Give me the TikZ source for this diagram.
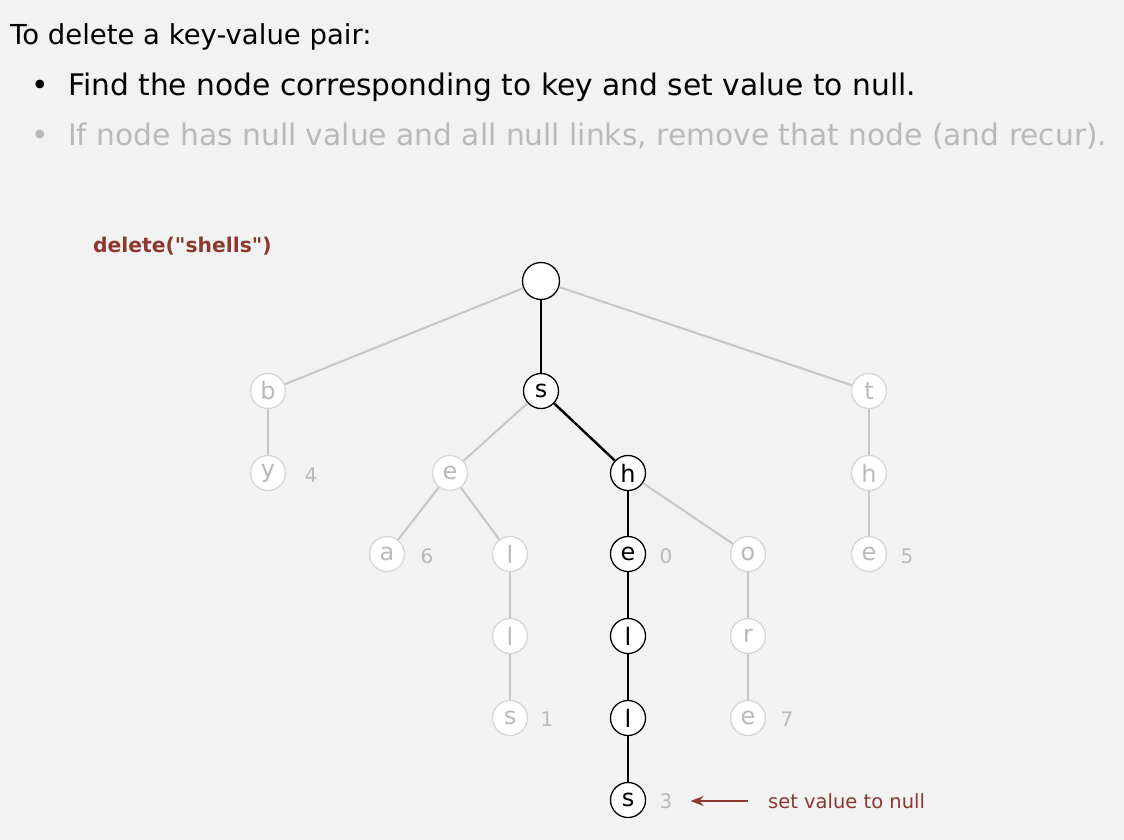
\documentclass[tikz,border=0pt]{standalone}
\usepackage{fontspec}
\setmainfont{DejaVu Sans}
\newfontfamily\callfont{DejaVu Sans}[Ligatures=TeXOff]
\usetikzlibrary{arrows.meta,positioning}
\definecolor{PageGray}{RGB}{242,242,242}
\definecolor{Rust}{RGB}{140,56,46}
\definecolor{FadeLine}{RGB}{198,198,198}
\definecolor{FadeRim}{RGB}{214,214,214}
\definecolor{FadeText}{RGB}{185,185,185}
\tikzset{
  live/.style={circle,draw=black,line width=1.3pt,fill=white,minimum size=35pt,inner sep=0pt,font=\fontsize{24}{24}\selectfont},
  dead/.style={live,draw=FadeRim,text=FadeText},
  rootnode/.style={live,minimum size=37pt},
  val/.style={text=FadeText,inner sep=0pt,font=\fontsize{20}{20}\selectfont},
  livepath/.style={draw=black,line width=2.4pt},
  deadpath/.style={draw=FadeLine,line width=2pt},
  pointer/.style={-{Stealth[length=13pt,width=10pt]},draw=Rust,line width=2pt,shorten <=20pt,shorten >=18pt},
  bigtext/.style={anchor=base west,inner sep=0pt,font=\fontsize{29.7}{29.7}\selectfont},
  note/.style={anchor=west,inner sep=0pt,text=Rust,font=\fontsize{19.5}{19.5}\selectfont}
}

\begin{document}
\begin{tikzpicture}[x=1pt,y=-1pt]
\fill[PageGray] (0,0) rectangle (1124,840);
\useasboundingbox (0,0) rectangle (1124,840);

% heading
\node[bigtext,font=\fontsize{27.5}{27.5}\selectfont] (intro) at (10,45) {To delete a key-value pair:};
\node[bigtext] (dot1) at (31,96) {•};
\node[bigtext] (step1) at (68,96) {Find the node corresponding to key and set value to null.};
\node[bigtext,text=FadeText] (dot2) at (31,146) {•};
\node[bigtext,text=FadeText] (step2) at (68,146) {If node has null value and all null links, remove that node (and recur).};
\node[anchor=base west,inner sep=0pt,text=Rust,font=\callfont\bfseries\fontsize{20.3}{20.3}\selectfont] (call) at (93,252) {delete("shells")};

% trie nodes
\node[rootnode] (root) at (541,281) {};
\node[dead] (b) at (268,391) {b};
\node[live] (s) at (541,391) {s};
\node[dead] (t) at (869,391) {t};
\node[dead] (by) at (268,473) {y};
\node[dead] (se) at (450,473) {e};
\node[live] (sh) at (628,473) {h};
\node[dead] (th) at (869,473) {h};
\node[dead] (sea) at (387,554) {a};
\node[dead] (sel) at (510,554) {l};
\node[live] (she) at (628,554) {e};
\node[dead] (sho) at (748,554) {o};
\node[dead] (the) at (869,554) {e};
\node[dead] (sell) at (510,636) {l};
\node[live] (shel) at (628,636) {l};
\node[dead] (shor) at (748,636) {r};
\node[dead] (sells) at (510,718) {s};
\node[live] (shell) at (628,718) {l};
\node[dead] (shore) at (748,718) {e};
\node[live] (shells) at (628,800) {s};

% values
\node[val] (v4) at (311,475) {4};
\node[val] (v6) at (427,556) {6};
\node[val] (v0) at (666,556) {0};
\node[val] (v5) at (907,556) {5};
\node[val] (v1) at (547,719) {1};
\node[val] (v7) at (787,719) {7};
\node[val] (v3) at (666,801) {3};

% links
\draw[deadpath] (root)--(b);\draw[deadpath] (root)--(t);\draw[deadpath] (b)--(by);\draw[deadpath] (s)--(se);\draw[deadpath] (t)--(th);\draw[deadpath] (th)--(the);
\draw[deadpath] (se)--(sea);\draw[deadpath] (se)--(sel);\draw[deadpath] (sel)--(sell);\draw[deadpath] (sell)--(sells);
\draw[deadpath] (sh)--(sho);\draw[deadpath] (sho)--(shor);\draw[deadpath] (shor)--(shore);
\draw[livepath] (root)--(s);\draw[livepath] (s)--(sh);\draw[livepath] (sh)--(she);\draw[livepath] (she)--(shel);\draw[livepath] (shel)--(shell);\draw[livepath] (shell)--(shells);

% annotation
\node[note] (nullnote) at (768,801) {set value to null};
\draw[pointer] (nullnote.west) -- (v3.east);
\end{tikzpicture}
\end{document}
